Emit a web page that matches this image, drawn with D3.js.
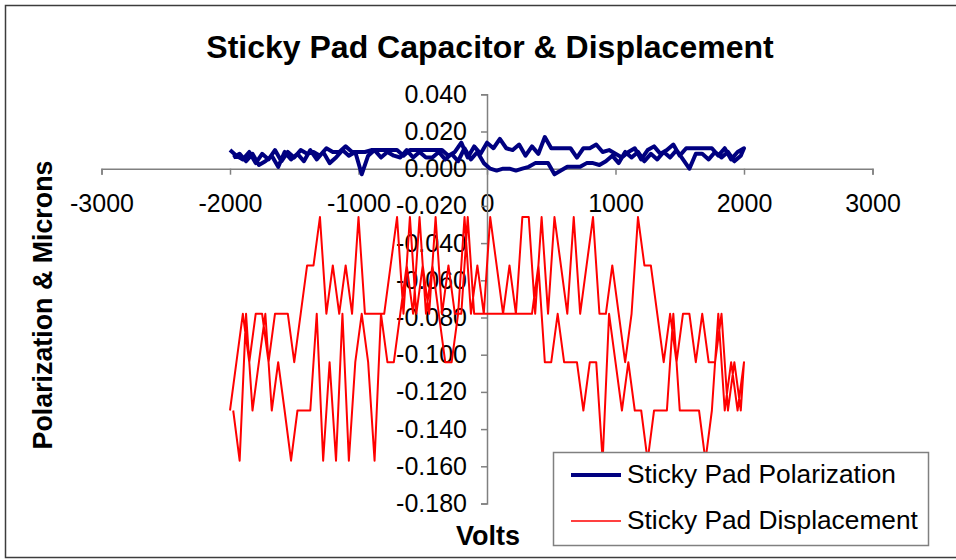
<!DOCTYPE html>
<html>
<head>
<meta charset="utf-8">
<script src="https://cdn.jsdelivr.net/npm/d3@7"></script>
<style>
  html, body { margin: 0; padding: 0; background: #fff; }
  svg text { font-family: "Liberation Sans", Arial, sans-serif; }
</style>
</head>
<body>
<svg id="chart" width="956" height="560"></svg>
<script>
// ---- Data ----
const title = "Sticky Pad Capacitor & Displacement";
const xTitle = "Volts";
const yTitle = "Polarization & Microns";
const seriesNames = ["Sticky Pad Polarization", "Sticky Pad Displacement"];
const xTicks = [-3000, -2000, -1000, 0, 1000, 2000, 3000];
const yTicks = [0.040, 0.020, 0.000, -0.020, -0.040, -0.060, -0.080, -0.100, -0.120, -0.140, -0.160, -0.180];

// voltage sweep: up from -2000 to 2000, then back down
const voltsUp = [-2000,-1950,-1900,-1850,-1800,-1750,-1700,-1650,-1600,-1550,-1500,-1450,-1400,-1350,-1300,-1250,-1200,-1150,-1100,-1050,
  -1000,-950,-900,-850,-800,-750,-700,-650,-600,-550,-500,-450,-400,-350,-300,-250,-200,-150,-100,-50,
  0,50,100,150,200,250,300,350,400,450,500,550,600,650,700,750,800,850,900,950,
  1000,1050,1100,1150,1200,1250,1300,1350,1400,1450,1500,1550,1600,1650,1700,1750,1800,1850,1900,1950,2000];
const voltsDown = [1975,1925,1875,1825,1775,1725,1675,1625,1575,1525,1475,1425,1375,1325,1275,1225,1175,1125,1075,1025,
  975,925,875,825,775,725,675,625,575,525,475,425,375,325,275,225,175,125,75,25,
  -25,-75,-125,-175,-225,-275,-325,-375,-425,-475,-525,-575,-625,-675,-725,-775,-825,-875,-925,-975,
  -1025,-1075,-1125,-1175,-1225,-1275,-1325,-1375,-1425,-1475,-1525,-1575,-1625,-1675,-1725,-1775,-1825,-1875,-1925,-1975];

const polarizationUp = [0.010,0.007,0.005,0.009,0.003,0.008,0.005,0.010,0.004,0.009,0.006,0.010,0.008,0.009,0.007,0.011,0.009,0.009,0.012,0.009,
  0.009,0.009,0.010,0.010,0.010,0.010,0.010,0.007,0.010,0.010,0.010,0.010,0.010,0.010,0.007,0.009,0.014,0.006,0.012,0.008,
  0.014,0.011,0.016,0.011,0.010,0.013,0.007,0.012,0.008,0.017,0.011,0.011,0.011,0.011,0.006,0.011,0.011,0.013,0.009,0.010,
  0.008,0.006,0.009,0.011,0.005,0.010,0.012,0.008,0.010,0.013,0.007,0.011,0.011,0.011,0.011,0.011,0.007,0.011,0.005,0.009,0.011];
const polarizationDown = [0.007,0.004,0.009,0.006,0.009,0.005,0.008,0.008,0.000,0.005,0.010,0.006,0.009,0.005,0.008,0.004,0.009,0.006,0.009,0.003,
  0.007,0.004,0.002,0.003,0.003,0.001,0.001,0.001,-0.001,-0.003,0.003,0.003,0.003,0.001,0.000,-0.001,0.000,0.000,-0.001,0.000,
  0.003,0.009,0.005,0.011,0.004,0.008,0.005,0.009,0.006,0.006,0.009,0.006,0.010,0.006,0.007,0.009,0.006,0.010,0.007,-0.003,
  0.009,0.007,0.010,0.006,0.003,0.009,0.005,0.010,0.004,0.008,0.005,0.009,0.001,0.007,0.004,0.002,0.008,0.004,0.008,0.006];

const displacementUp = [-0.130,-0.104,-0.078,-0.104,-0.078,-0.078,-0.104,-0.078,-0.078,-0.078,-0.104,-0.078,-0.052,-0.052,-0.026,-0.078,-0.052,-0.078,-0.052,-0.078,
  -0.026,-0.078,-0.078,-0.078,-0.078,-0.052,-0.026,-0.078,-0.026,-0.078,-0.052,-0.078,-0.026,-0.078,-0.052,-0.078,-0.078,-0.026,-0.078,-0.078,
  -0.078,-0.078,-0.078,-0.078,-0.078,-0.078,-0.078,-0.078,-0.052,-0.104,-0.104,-0.078,-0.104,-0.104,-0.104,-0.130,-0.104,-0.104,-0.157,-0.078,
  -0.104,-0.130,-0.104,-0.130,-0.130,-0.157,-0.130,-0.130,-0.130,-0.078,-0.130,-0.130,-0.130,-0.130,-0.157,-0.130,-0.078,-0.130,-0.104,-0.130,-0.104];
const displacementDown = [-0.130,-0.104,-0.130,-0.078,-0.104,-0.104,-0.078,-0.104,-0.078,-0.078,-0.104,-0.078,-0.104,-0.078,-0.052,-0.052,-0.026,-0.078,-0.104,-0.078,
  -0.052,-0.078,-0.078,-0.026,-0.052,-0.078,-0.026,-0.078,-0.052,-0.026,-0.078,-0.026,-0.078,-0.026,-0.026,-0.078,-0.052,-0.078,-0.052,-0.026,
  -0.078,-0.052,-0.078,-0.026,-0.078,-0.104,-0.104,-0.078,-0.052,-0.078,-0.026,-0.078,-0.052,-0.078,-0.104,-0.104,-0.078,-0.157,-0.104,-0.078,
  -0.104,-0.157,-0.078,-0.157,-0.104,-0.157,-0.078,-0.130,-0.130,-0.130,-0.157,-0.130,-0.104,-0.130,-0.078,-0.104,-0.130,-0.078,-0.157,-0.130];

// ---- Build ----
const svg = d3.select("#chart");
const colors = ["#000080", "#ff0000"];
const fontFam = "'Liberation Sans', Arial, sans-serif";
const locale = d3.formatLocale({decimal: ".", thousands: "", grouping: [3], currency: ["", ""], minus: "-"});

// outer frame
svg.append("rect").attr("x", 5.5).attr("y", 5.5).attr("width", 960).attr("height", 552)
  .attr("fill", "#fff").attr("stroke", "#3c3c3c").attr("stroke-width", 1.5);

const x = d3.scaleLinear().domain([-3000, 3000]).range([101.5, 872.5]);
const y = d3.scaleLinear().domain([-0.18, 0.04]).range([503.5, 94.3]);

const fmtY = locale.format(".3f");
const fmtX = locale.format("d");

// x axis (crosses at y=0)
const xAxis = d3.axisBottom(x).tickValues(xTicks).tickSize(6).tickPadding(20).tickFormat(fmtX);
const gx = svg.append("g").attr("transform", `translate(0,${y(0)})`).call(xAxis);
gx.select(".domain").attr("stroke", "#808080").attr("stroke-width", 1.5);
gx.selectAll(".tick line").attr("stroke", "#808080").attr("stroke-width", 1.5);
gx.selectAll(".tick text").attr("font-size", 25).attr("fill", "#000").attr("font-family", fontFam);

// y axis (crosses at x=0)
const yAxis = d3.axisLeft(y).tickValues(yTicks).tickSize(6).tickPadding(14).tickFormat(fmtY);
const gy = svg.append("g").attr("transform", `translate(${x(0)},0)`).call(yAxis);
gy.select(".domain").attr("stroke", "#808080").attr("stroke-width", 1.5);
gy.selectAll(".tick line").attr("stroke", "#808080").attr("stroke-width", 1.5);
gy.selectAll(".tick text").attr("font-size", 25).attr("fill", "#000").attr("font-family", fontFam);

// series
function points(vx1, vy1, vx2, vy2) {
  return vx1.map((v, i) => [v, vy1[i]]).concat(vx2.map((v, i) => [v, vy2[i]]));
}
const line = d3.line().x(d => x(d[0])).y(d => y(d[1]));
const polPts = points(voltsUp, polarizationUp, voltsDown, polarizationDown);
const dispPts = points(voltsUp, displacementUp, voltsDown, displacementDown);

svg.append("path").datum(polPts).attr("d", line).attr("fill", "none")
  .attr("stroke", colors[0]).attr("stroke-width", 4).attr("stroke-linejoin", "round");
svg.append("path").datum(dispPts).attr("d", line).attr("fill", "none")
  .attr("stroke", colors[1]).attr("stroke-width", 2).attr("stroke-linejoin", "round");

// title
svg.append("text").attr("x", 490).attr("y", 58).attr("text-anchor", "middle")
  .attr("font-size", 32).attr("font-weight", "bold").attr("font-family", fontFam).text(title);
// axis titles
svg.append("text").attr("x", 488).attr("y", 545).attr("text-anchor", "middle")
  .attr("font-size", 27).attr("font-weight", "bold").attr("font-family", fontFam).text(xTitle);
svg.append("text").attr("transform", "translate(52,305) rotate(-90)").attr("text-anchor", "middle")
  .attr("font-size", 26.8).attr("font-weight", "bold").attr("font-family", fontFam).text(yTitle);

// legend
const lg = svg.append("g");
lg.append("rect").attr("x", 553.5).attr("y", 452.5).attr("width", 375).attr("height", 93)
  .attr("fill", "#fff").attr("stroke", "#808080").attr("stroke-width", 1.5);
const rows = [475, 521];
seriesNames.forEach((name, i) => {
  lg.append("line").attr("x1", 571).attr("x2", 621).attr("y1", rows[i]).attr("y2", rows[i])
    .attr("stroke", colors[i]).attr("stroke-width", i === 0 ? 4 : 1.5);
  lg.append("text").attr("x", 627).attr("y", rows[i] + 8).attr("font-size", 26.3)
    .attr("font-family", fontFam).text(name);
});
</script>
</body>
</html>
